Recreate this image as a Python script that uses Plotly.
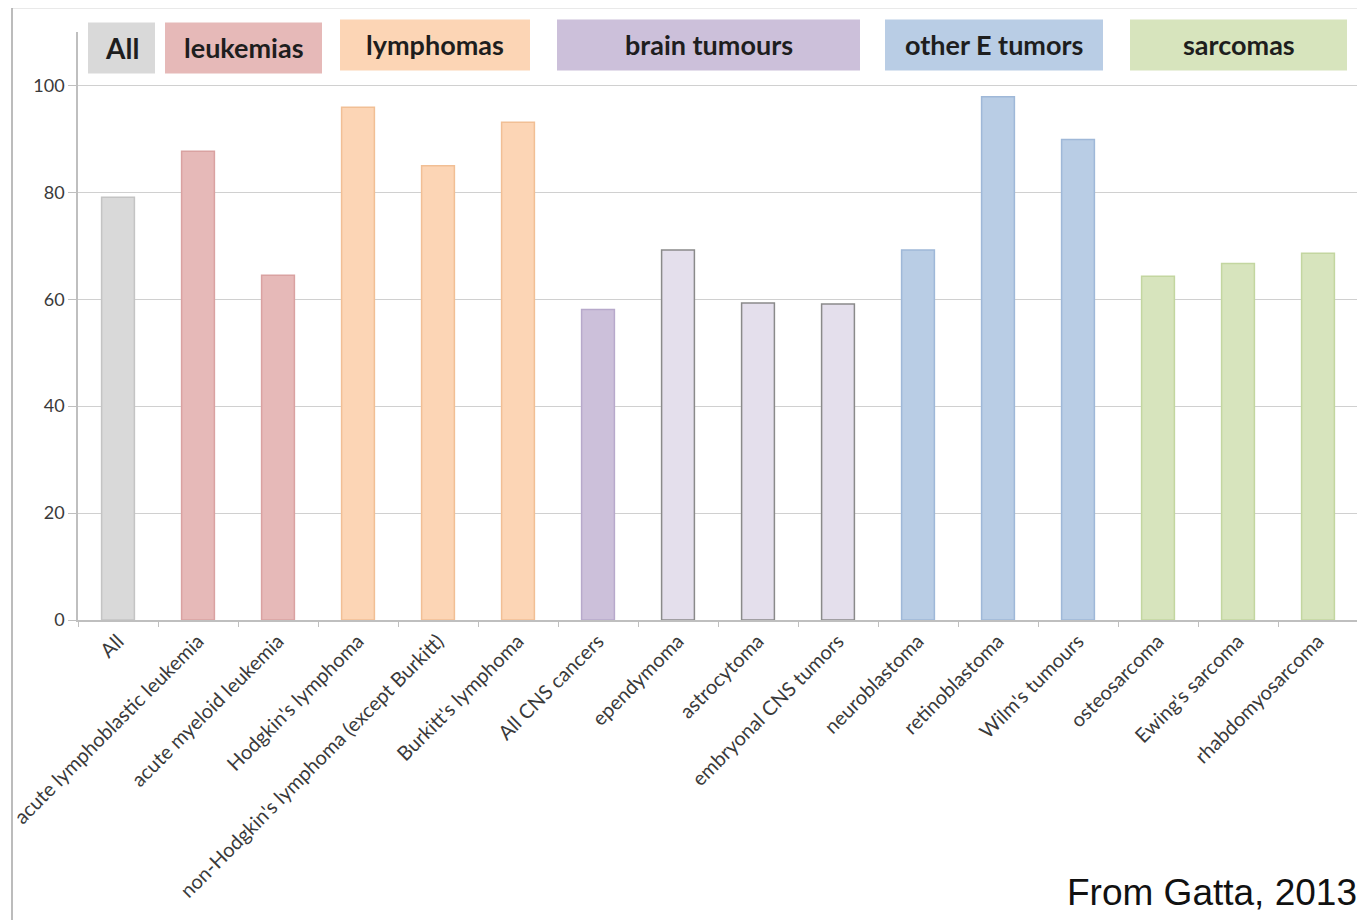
import plotly.graph_objects as go

categories = ["All", "acute lymphoblastic leukemia", "acute myeloid leukemia",
              "Hodgkin's lymphoma", "non-Hodgkin's lymphoma (except Burkitt)",
              "Burkitt's lymphoma", "All CNS cancers", "ependymoma", "astrocytoma",
              "embryonal CNS tumors", "neuroblastoma", "retinoblastoma",
              "Wilm's tumours", "osteosarcoma", "Ewing's sarcoma", "rhabdomyosarcoma"]
values = [79.1, 87.7, 64.5, 95.9, 85.0, 93.1, 58.1, 69.2, 59.3, 59.1,
          69.2, 97.9, 89.9, 64.3, 66.7, 68.6]
groups = ["All", "leukemias", "leukemias", "lymphomas", "lymphomas", "lymphomas",
          "brain", "brain2", "brain2", "brain2", "otherE", "otherE", "otherE",
          "sarcomas", "sarcomas", "sarcomas"]
group_labels = ["All", "leukemias", "lymphomas", "brain tumours", "other E tumors", "sarcomas"]
y_ticks = [0, 20, 40, 60, 80, 100]

fill = {"All": "#d9d9d9", "leukemias": "#e6b9b8", "lymphomas": "#fcd5b5",
        "brain": "#ccc0da", "brain2": "#e4dfec", "otherE": "#b9cde5", "sarcomas": "#d7e4bd"}
edge = {"All": "#c4c4c4", "leukemias": "#d9a2a1", "lymphomas": "#f1bf95",
        "brain": "#b7a9cb", "brain2": "#8a8a8a", "otherE": "#9fb8d8", "sarcomas": "#c3d6a0"}
label_fill = ["#d9d9d9", "#e6b9b8", "#fcd5b5", "#ccc0da", "#b9cde5", "#d7e4bd"]

OFF = 8  # page body margin
W, H = 1365 - OFF, 920 - OFF
L, R, T, B = 78 - OFF, 1358 - OFF, 31.5 - OFF, 620 - OFF

def px(x):
    return (x - OFF - L) / (R - L)

def py(y):
    return (B - (y - OFF)) / (B - T)

fig = go.Figure()
fig.add_trace(go.Bar(
    x=categories, y=values,
    marker=dict(color=[fill[g] for g in groups],
                line=dict(color=[edge[g] for g in groups], width=1.5)),
    width=0.41,
))

boxes = [(88, 155, 22, 73), (165, 322, 22, 73), (340, 530, 19, 70),
         (557, 860, 19, 70), (885, 1103, 19, 70), (1130, 1347, 19, 70)]
shapes = []
annotations = []
for (x0, x1, y0, y1), lab, col in zip(boxes, group_labels, label_fill):
    shapes.append(dict(type="rect", xref="paper", yref="paper",
                       x0=px(x0), x1=px(x1), y0=py(y1), y1=py(y0),
                       fillcolor=col, line=dict(width=0), layer="below"))
    annotations.append(dict(text="<b>%s</b>" % lab, xref="paper", yref="paper",
                            x=px((x0 + x1) / 2), y=py((y0 + y1) / 2),
                            xanchor="center", yanchor="middle", showarrow=False,
                            font=dict(family="Lato", size=28 if lab == "All" else 27,
                                      color="#1e1e1e")))

# outer frame
shapes.append(dict(type="rect", xref="paper", yref="paper",
                   x0=px(12), x1=px(1380), y0=py(935), y1=py(7),
                   line=dict(color="#a6a6a6", width=1.5), fillcolor="rgba(0,0,0,0)"))

annotations.append(dict(text="From Gatta, 2013", xref="paper", yref="paper",
                        x=px(1359), y=py(893), xanchor="right", yanchor="middle",
                        showarrow=False,
                        font=dict(family="Liberation Sans", size=37, color="#111111")))

fig.update_layout(
    width=W, height=H,
    margin=dict(l=L, r=W - R, t=T, b=H - B, autoexpand=False),
    paper_bgcolor="white", plot_bgcolor="white",
    showlegend=False, shapes=shapes, annotations=annotations,
    bargap=0.59,
)
fig.update_xaxes(type="category", tickangle=-45, tickson="boundaries",
                 ticks="outside", ticklen=5, tickcolor="#bfbfbf",
                 showline=True, linecolor="#bfbfbf", linewidth=1.5,
                 showgrid=False,
                 tickfont=dict(family="Lato", size=20, color="#3a3a3a"))
fig.update_yaxes(range=[0, 110], tickvals=y_ticks, ticks="outside", ticklen=8,
                 tickcolor="#bfbfbf", showline=True, linecolor="#bfbfbf",
                 linewidth=1.5, showgrid=True, gridcolor="#d0d0d0", gridwidth=1.2,
                 zeroline=False,
                 tickfont=dict(family="Lato", size=18, color="#3a3a3a"))

fig.write_html("out.html")
